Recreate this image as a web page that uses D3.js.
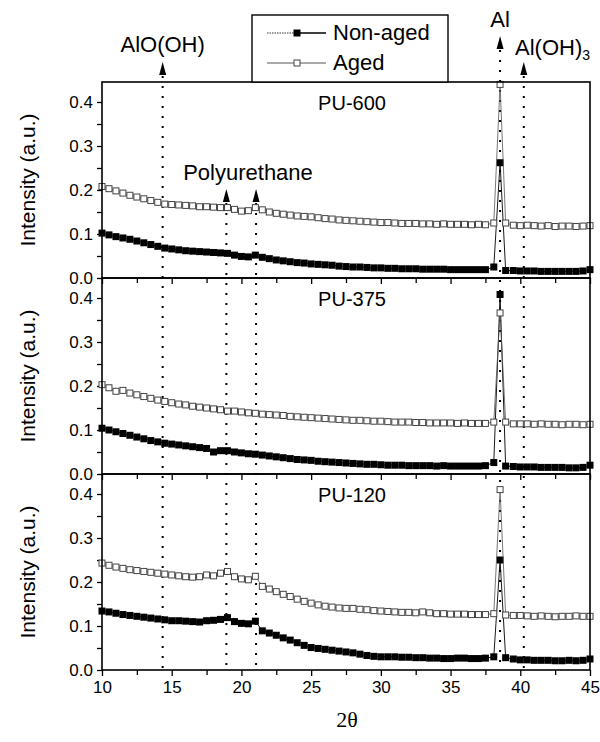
<!DOCTYPE html>
<html><head><meta charset="utf-8">
<script src="https://cdn.jsdelivr.net/npm/d3@7"></script>
<style>body{margin:0;background:#fff}svg{display:block}</style>
</head><body>
<script>
// ---------- DATA ----------
const twoTheta = [10,10.5,11,11.5,12,12.5,13,13.5,14,14.5,15,15.5,16,16.5,17,17.5,18,18.5,19,19.5,20,20.5,21,21.5,22,22.5,23,23.5,24,24.5,25,25.5,26,26.5,27,27.5,28,28.5,29,29.5,30,30.5,31,31.5,32,32.5,33,33.5,34,34.5,35,35.5,36,36.5,37,37.5,38.1,38.55,38.95,39.5,40,40.5,41,41.5,42,42.5,43,43.5,44,44.5,45];

const pu600Aged = [0.208,0.203,0.198,0.193,0.188,0.184,0.180,0.176,0.172,0.168,0.167,0.166,0.165,0.164,0.162,0.162,0.161,0.160,0.160,0.156,0.152,0.153,0.160,0.155,0.150,0.147,0.145,0.143,0.141,0.140,0.139,0.137,0.135,0.134,0.132,0.131,0.130,0.129,0.128,0.127,0.126,0.126,0.125,0.124,0.124,0.124,0.123,0.123,0.122,0.123,0.122,0.122,0.122,0.121,0.122,0.121,0.125,0.440,0.125,0.120,0.119,0.120,0.119,0.118,0.119,0.117,0.118,0.118,0.117,0.118,0.119];
const pu600NonAged = [0.102,0.098,0.094,0.091,0.088,0.084,0.080,0.076,0.072,0.068,0.066,0.064,0.062,0.061,0.060,0.059,0.058,0.057,0.056,0.052,0.049,0.048,0.052,0.047,0.044,0.041,0.039,0.037,0.035,0.034,0.032,0.031,0.030,0.029,0.027,0.026,0.025,0.025,0.024,0.023,0.023,0.022,0.022,0.021,0.021,0.021,0.020,0.020,0.020,0.020,0.019,0.019,0.019,0.019,0.019,0.019,0.025,0.262,0.017,0.017,0.016,0.016,0.016,0.015,0.015,0.015,0.015,0.015,0.015,0.016,0.019];

const pu375Aged = [0.203,0.196,0.188,0.190,0.184,0.180,0.176,0.172,0.168,0.165,0.162,0.159,0.157,0.154,0.152,0.150,0.148,0.146,0.143,0.143,0.141,0.139,0.138,0.136,0.135,0.134,0.133,0.131,0.130,0.129,0.128,0.127,0.126,0.125,0.124,0.123,0.122,0.122,0.121,0.120,0.120,0.119,0.118,0.118,0.118,0.117,0.117,0.116,0.116,0.116,0.116,0.115,0.116,0.115,0.115,0.115,0.118,0.366,0.118,0.114,0.114,0.114,0.113,0.114,0.113,0.113,0.112,0.113,0.113,0.112,0.113];
const pu375NonAged = [0.104,0.100,0.096,0.092,0.088,0.084,0.080,0.076,0.073,0.070,0.068,0.066,0.064,0.062,0.060,0.058,0.050,0.053,0.053,0.050,0.048,0.046,0.045,0.043,0.041,0.039,0.037,0.035,0.033,0.032,0.031,0.029,0.028,0.027,0.026,0.025,0.024,0.023,0.022,0.022,0.021,0.020,0.020,0.020,0.019,0.019,0.019,0.019,0.018,0.019,0.018,0.018,0.018,0.018,0.018,0.019,0.026,0.408,0.018,0.017,0.016,0.016,0.016,0.015,0.015,0.015,0.015,0.014,0.014,0.015,0.020];

const pu120Aged = [0.243,0.238,0.234,0.231,0.228,0.226,0.224,0.222,0.220,0.218,0.216,0.214,0.212,0.211,0.212,0.216,0.214,0.220,0.224,0.212,0.207,0.205,0.213,0.190,0.184,0.178,0.172,0.167,0.161,0.156,0.152,0.148,0.145,0.143,0.141,0.140,0.140,0.138,0.137,0.135,0.134,0.133,0.132,0.131,0.131,0.130,0.132,0.130,0.128,0.128,0.127,0.127,0.127,0.126,0.126,0.126,0.128,0.410,0.125,0.124,0.124,0.123,0.122,0.123,0.122,0.121,0.122,0.122,0.123,0.122,0.122];
const pu120NonAged = [0.134,0.132,0.129,0.126,0.124,0.122,0.120,0.118,0.116,0.114,0.112,0.112,0.111,0.110,0.109,0.112,0.113,0.115,0.119,0.110,0.106,0.105,0.111,0.089,0.084,0.079,0.073,0.068,0.062,0.056,0.051,0.049,0.047,0.045,0.043,0.041,0.039,0.036,0.033,0.031,0.030,0.030,0.030,0.029,0.029,0.028,0.028,0.027,0.027,0.026,0.026,0.027,0.027,0.026,0.026,0.027,0.030,0.250,0.028,0.025,0.023,0.023,0.022,0.022,0.022,0.021,0.021,0.022,0.021,0.022,0.025];

const panelLabels = ["PU-600", "PU-375", "PU-120"];
const seriesNames = ["Non-aged", "Aged"];
const xTickValues = [10, 15, 20, 25, 30, 35, 40, 45];
const xMinorTicks = [12.5, 17.5, 22.5, 27.5, 32.5, 37.5, 42.5];
const yTickValues = [0.0, 0.1, 0.2, 0.3, 0.4];
const yMinorTicks = [0.05, 0.15, 0.25, 0.35];
const peakNames = ["AlO(OH)", "Polyurethane", "Polyurethane", "Al", "Al(OH)3"];
const peakPositions = [14.35, 18.92, 21.05, 38.55, 40.25];

// ---------- LAYOUT ----------
const W = 600, H = 742;
const left = 102, right = 590, top0 = 82, panelH = 196;
const FONT = "'Liberation Sans', Arial, sans-serif";

const svg = d3.select("body").append("svg").attr("width", W).attr("height", H);

const x = d3.scaleLinear().domain([10, 45]).range([left, right]);
const panels = [
  {label: panelLabels[0], nonAged: pu600NonAged, aged: pu600Aged},
  {label: panelLabels[1], nonAged: pu375NonAged, aged: pu375Aged},
  {label: panelLabels[2], nonAged: pu120NonAged, aged: pu120Aged}
];
const bottomY = top0 + 3 * panelH;

// dotted reference lines + arrows (drawn behind data)
const arrowTips = [62, 189, 189, 36, 62];
const gRef = svg.append("g");
peakPositions.forEach((p, i) => {
  const px = x(p), tip = arrowTips[i];
  gRef.append("line").attr("x1", px).attr("x2", px).attr("y1", tip + 14).attr("y2", bottomY)
    .attr("stroke", "#000").attr("stroke-width", 2).attr("stroke-dasharray", "2,8");
  gRef.append("path").attr("d", `M${px},${tip} L${px - 3.5},${tip + 13} L${px + 3.5},${tip + 13} Z`).attr("fill", "#000");
});

panels.forEach((pn, i) => {
  const pTop = top0 + i * panelH, pBot = pTop + panelH;
  const y = d3.scaleLinear().domain([0, panelH / 440]).range([pBot, pTop]);
  const g = svg.append("g");

  // axes
  const yAxis = d3.axisLeft(y).tickValues(yTickValues).tickFormat(d3.format(".1f")).tickSize(5).tickPadding(4);
  const ga = g.append("g").attr("transform", `translate(${left},0)`).call(yAxis);
  ga.select(".domain").remove();
  ga.selectAll("text").attr("font-family", FONT).attr("font-size", 17).attr("fill", "#000");
  ga.selectAll("line").attr("stroke", "#000").attr("stroke-width", 1.3);
  const gm = g.append("g").attr("transform", `translate(${left},0)`).call(d3.axisLeft(y).tickValues(yMinorTicks).tickSize(5).tickFormat(""));
  gm.select(".domain").remove();
  gm.selectAll("line").attr("stroke", "#000").attr("stroke-width", 1.3);

  const xAxis = d3.axisBottom(x).tickValues(xTickValues).tickSize(6).tickPadding(5)
    .tickFormat(i === 2 ? d3.format("d") : "");
  const gx = g.append("g").attr("transform", `translate(0,${pBot})`).call(xAxis);
  gx.select(".domain").remove();
  gx.selectAll("text").attr("font-family", FONT).attr("font-size", 17).attr("fill", "#000");
  gx.selectAll("line").attr("stroke", "#000").attr("stroke-width", 1.3);
  const gxm = g.append("g").attr("transform", `translate(0,${pBot})`).call(d3.axisBottom(x).tickValues(xMinorTicks).tickSize(5).tickFormat(""));
  gxm.select(".domain").remove();
  gxm.selectAll("line").attr("stroke", "#000").attr("stroke-width", 1.3);

  // y label
  g.append("text").attr("transform", `translate(35,${(pTop + pBot) / 2}) rotate(-90)`)
    .attr("text-anchor", "middle").attr("font-family", FONT).attr("font-size", 21).text("Intensity (a.u.)");

  // panel label
  g.append("text").attr("x", 352).attr("y", pTop + 28).attr("text-anchor", "middle")
    .attr("font-family", FONT).attr("font-size", 20).text(pn.label);

  const line = d3.line().x((d, k) => x(twoTheta[k])).y(d => y(d));
  const ms = 7;
  // non-aged
  g.append("path").datum(pn.nonAged).attr("d", line).attr("fill", "none").attr("stroke", "#000").attr("stroke-width", 0.9);
  g.selectAll(".na").data(pn.nonAged).enter().append("rect")
    .attr("x", (d, k) => x(twoTheta[k]) - ms / 2).attr("y", d => y(d) - ms / 2)
    .attr("width", ms).attr("height", ms).attr("fill", "#000");
  // aged
  g.append("path").datum(pn.aged).attr("d", line).attr("fill", "none").attr("stroke", "#555").attr("stroke-width", 0.8);
  g.selectAll(".ag").data(pn.aged).enter().append("rect")
    .attr("x", (d, k) => x(twoTheta[k]) - ms / 2 + 0.5).attr("y", d => y(d) - ms / 2 + 0.5)
    .attr("width", ms - 1).attr("height", ms - 1).attr("fill", "#fff").attr("stroke", "#444").attr("stroke-width", 1);

  // frame
  g.append("rect").attr("x", left).attr("y", pTop).attr("width", right - left).attr("height", panelH)
    .attr("fill", "none").attr("stroke", "#000").attr("stroke-width", 1.6);
});

// annotation labels
const ann = svg.append("g").attr("font-family", FONT).attr("font-size", 22).attr("fill", "#000");
ann.append("text").attr("x", x(peakPositions[0])).attr("y", 52).attr("text-anchor", "middle").text(peakNames[0]);
ann.append("text").attr("x", 248).attr("y", 180).attr("text-anchor", "middle").text(peakNames[1]);
ann.append("text").attr("x", x(peakPositions[3])).attr("y", 27).attr("text-anchor", "middle").text(peakNames[3]);
const t5 = ann.append("text").attr("x", 515).attr("y", 55);
t5.append("tspan").text("Al(OH)");
t5.append("tspan").attr("font-size", 14).attr("dy", 5).text("3");

// legend
const lg = svg.append("g");
lg.append("rect").attr("x", 252).attr("y", 15).attr("width", 196).attr("height", 67)
  .attr("fill", "#fff").attr("stroke", "#000").attr("stroke-width", 1.4);
const rows = [33, 63];
// non-aged row
lg.append("line").attr("x1", 267).attr("x2", 294).attr("y1", rows[0]).attr("y2", rows[0]).attr("stroke", "#333").attr("stroke-width", 1).attr("stroke-dasharray", "1.5,1");
lg.append("line").attr("x1", 297).attr("x2", 326).attr("y1", rows[0]).attr("y2", rows[0]).attr("stroke", "#000").attr("stroke-width", 1.5);
lg.append("rect").attr("x", 293.5).attr("y", rows[0] - 3.5).attr("width", 7).attr("height", 7).attr("fill", "#000");
// aged row
lg.append("line").attr("x1", 267).attr("x2", 326).attr("y1", rows[1]).attr("y2", rows[1]).attr("stroke", "#555").attr("stroke-width", 1);
lg.append("rect").attr("x", 294).attr("y", rows[1] - 3).attr("width", 6).attr("height", 6).attr("fill", "#fff").attr("stroke", "#444");
lg.selectAll(".lt").data(seriesNames).enter().append("text")
  .attr("x", 333).attr("y", (d, i) => rows[i] + 7).attr("font-family", FONT).attr("font-size", 22).text(d => d);

// x label
svg.append("text").attr("x", 347).attr("y", 727).attr("text-anchor", "middle")
  .attr("font-family", "'Liberation Serif', 'Times New Roman', serif").attr("font-size", 22).text("2θ");
</script>
</body></html>
